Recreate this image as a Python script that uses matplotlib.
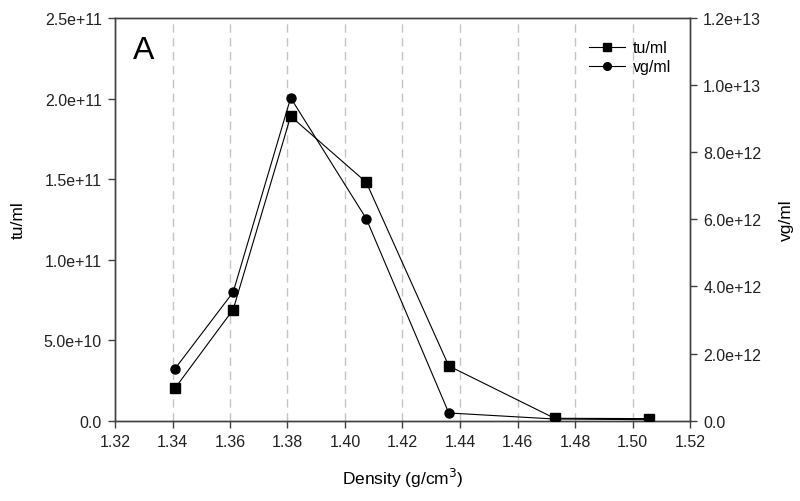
import numpy as np
import matplotlib
matplotlib.use("Agg")
import matplotlib.pyplot as plt
from matplotlib.ticker import FuncFormatter

plt.rcParams['font.family'] = ['Liberation Sans', 'DejaVu Sans']

# data
density = [1.3408, 1.3611, 1.3811, 1.4074, 1.4361, 1.4729, 1.5058]
tu_ml = [2.0e10, 6.9e10, 1.89e11, 1.48e11, 3.4e10, 1.5e9, 1.3e9]
vg_ml = [1.54e12, 3.83e12, 9.62e12, 6.02e12, 2.3e11, 5e10, 3e10]

x_ticks = [1.32, 1.34, 1.36, 1.38, 1.40, 1.42, 1.44, 1.46, 1.48, 1.50, 1.52]
grid_x = [1.34, 1.36, 1.38, 1.40, 1.42, 1.44, 1.46, 1.48, 1.50]
left_ticks = [0, 5e10, 1e11, 1.5e11, 2e11, 2.5e11]
right_ticks = [0, 2e12, 4e12, 6e12, 8e12, 1e13, 1.2e13]


def sci_fmt(v, pos):
    if v == 0:
        return "0.0"
    e = int(np.floor(np.log10(abs(v))))
    m = v / 10**e
    return "%.1fe+%d" % (m, e)


fig = plt.figure(figsize=(8, 5.02), dpi=100)
ax = fig.add_axes([115/800, 1 - 421.7/502, 575/800, 402.7/502])
ax2 = ax.twinx()

spine_col = '#404040'
for a in (ax, ax2):
    for s in a.spines.values():
        s.set_color(spine_col)
        s.set_linewidth(1.0)

for gx in grid_x:
    ax.axvline(gx, color='#c4c4c4', lw=1.0, ls=(0, (6, 4)), zorder=0)

l1, = ax.plot(density, tu_ml, color='black', lw=0.8, marker='s', ms=6.5,
              label='tu/ml', zorder=3)
l2, = ax2.plot(density, vg_ml, color='black', lw=0.8, marker='o', ms=6.5,
               label='vg/ml', zorder=3)

ax.set_xlim(1.32, 1.52)
ax.set_ylim(0, 2.5e11)
ax2.set_ylim(0, 1.2e13)
ax.set_xticks(x_ticks)
ax.set_xticklabels(["%.2f" % v for v in x_ticks])
ax.set_yticks(left_ticks)
ax2.set_yticks(right_ticks)
ax.yaxis.set_major_formatter(FuncFormatter(sci_fmt))
ax2.yaxis.set_major_formatter(FuncFormatter(sci_fmt))

for a in (ax, ax2):
    a.tick_params(direction='out', length=5, width=1.0, color=spine_col,
                  labelsize=11.5, labelcolor='#222222', pad=4.5)

ax.set_xlabel('Density (g/cm$^3$)', fontsize=12.5, labelpad=12)
ax.set_ylabel('tu/ml', fontsize=12.5, labelpad=13)
ax2.set_ylabel('vg/ml', fontsize=12.5, labelpad=13)

ax.text(0.032, 0.92, 'A', transform=ax.transAxes, fontsize=23,
        va='center', ha='left')

ax2.legend(handles=[l1, l2], loc='upper left', bbox_to_anchor=(0.824, 0.945),
           borderaxespad=0, borderpad=0, frameon=False, fontsize=11.5,
           handlelength=2.25, handletextpad=0.5, labelspacing=0.25,
           markerscale=0.85)

fig.savefig('out.png', dpi=100)
